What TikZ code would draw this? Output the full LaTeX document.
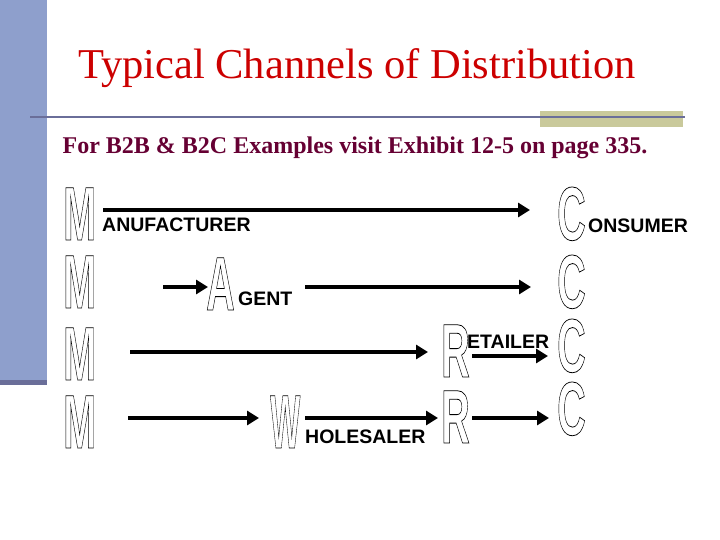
\documentclass[tikz,border=0pt]{standalone}
\usepackage{fontspec}
\setmainfont{Liberation Serif}
\setsansfont{Liberation Sans}
\usetikzlibrary{arrows.meta}
\newcommand\outl[1]{\special{pdf:literal direct 1 Tr 0.8 w}#1\special{pdf:literal direct 0 Tr 0 w}}
\definecolor{barblue}{HTML}{8E9FCC}
\definecolor{bardark}{HTML}{6A6E99}
\definecolor{khaki}{HTML}{C9C99B}
\definecolor{titred}{HTML}{CC0000}
\definecolor{maroon}{HTML}{660033}
\tikzset{
 big/.style={inner sep=0pt,anchor=base west,font=\sffamily\bfseries\fontsize{76}{76}\selectfont},
 lab/.style={inner sep=0pt,anchor=base west,font=\sffamily\bfseries\fontsize{19.5}{19.5}\selectfont},
 arr/.style={line width=4.5pt,-{Triangle[length=12pt,width=14pt]}}
}
\begin{document}
\begin{tikzpicture}[x=1pt,y=-1pt]
\useasboundingbox (0,0) rectangle (720,540);
\fill[barblue] (0,0) rectangle (47,385);
\fill[bardark] (0,380) rectangle (47,385);
\fill[khaki] (540,111) rectangle (683,127);
\draw[bardark,line width=2.5pt] (30,117) -- (685,117);
\node[inner sep=0pt,text=titred,font=\fontsize{42.5}{42.5}\selectfont] (title) at (357,68) {Typical Channels of Distribution};
\node[inner sep=0pt,text=maroon,font=\bfseries\fontsize{24}{24}\selectfont] (sub) at (355,148) {For B2B \& B2C Examples visit Exhibit 12-5 on page 335.};
% row 1
\node[big] (m1) at (63,240) {\scalebox{0.52}[1]{\outl{M}}};
\node[big] (c1) at (557,240) {\scalebox{0.52}[1]{\outl{C}}};
\node[lab] (l1) at (102,232) {ANUFACTURER};
\node[lab] (l1c) at (588,233) {ONSUMER};
\coordinate (a1s) at (103,210); \coordinate (a1e) at (530,210);
\draw[arr] (a1s) -- (a1e);
% row 2
\node[big] (m2) at (63,308) {\scalebox{0.52}[1]{\outl{M}}};
\node[big] (a2) at (206,310) {\scalebox{0.52}[1]{\outl{A}}};
\node[lab] (l2) at (238,305) {GENT};
\node[big] (c2) at (557,308) {\scalebox{0.52}[1]{\outl{C}}};
\coordinate (b1s) at (163,287); \coordinate (b1e) at (208,287);
\coordinate (b2s) at (305,287); \coordinate (b2e) at (531,287);
\draw[arr] (b1s) -- (b1e);
\draw[arr] (b2s) -- (b2e);
% row 3
\node[big] (m3) at (63,380) {\scalebox{0.52}[1]{\outl{M}}};
\node[big] (r3) at (441,377) {\scalebox{0.52}[1]{\outl{R}}};
\node[lab] (l3) at (467,348) {ETAILER};
\node[big] (c3) at (557,372) {\scalebox{0.52}[1]{\outl{C}}};
\coordinate (d1s) at (130,352); \coordinate (d1e) at (428,352);
\coordinate (d2s) at (472,356); \coordinate (d2e) at (548,356);
\draw[arr] (d1s) -- (d1e);
\draw[arr] (d2s) -- (d2e);
% row 4
\node[big] (m4) at (63,448) {\scalebox{0.52}[1]{\outl{M}}};
\node[big] (w4) at (270,448) {\scalebox{0.42}[1]{\outl{W}}};
\node[lab] (l4) at (305,443) {HOLESALER};
\node[big] (r4) at (441,443) {\scalebox{0.52}[1]{\outl{R}}};
\node[big] (c4) at (557,435) {\scalebox{0.52}[1]{\outl{C}}};
\coordinate (e1s) at (128,418); \coordinate (e1e) at (259,418);
\coordinate (e2s) at (305,418); \coordinate (e2e) at (438,418);
\coordinate (e3s) at (472,418); \coordinate (e3e) at (549,418);
\draw[arr] (e1s) -- (e1e);
\draw[arr] (e2s) -- (e2e);
\draw[arr] (e3s) -- (e3e);
\end{tikzpicture}
\end{document}
